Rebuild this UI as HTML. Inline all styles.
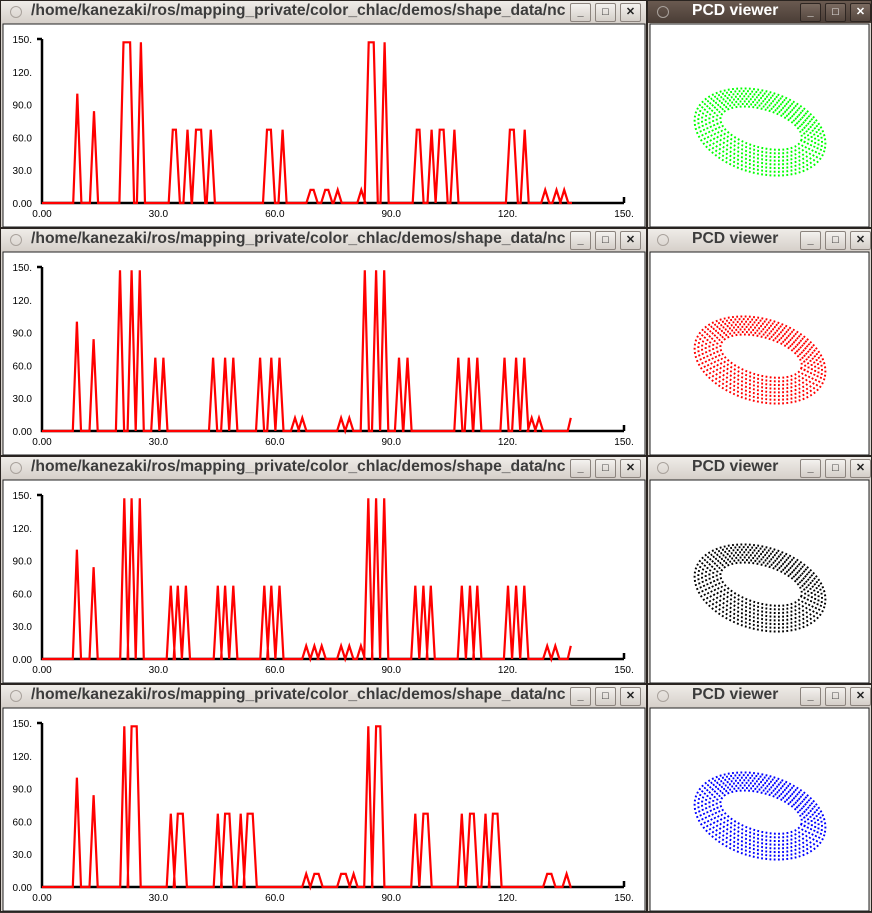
<!DOCTYPE html>
<html><head><meta charset="utf-8">
<style>
body{margin:0;width:872px;height:912px;overflow:hidden;background:#3a3330;font-family:"Liberation Sans",sans-serif;position:relative}
.win{position:absolute;background:#d9d4ce;border:1px solid #2a2420;box-sizing:border-box}
.tb{position:absolute;left:0;right:0;top:0;height:22px;background:linear-gradient(#efece8,#d6d0ca);}
.tb.active{background:linear-gradient(#6a5a50,#4a3d36);}
.ttl{position:absolute;top:1px;font-weight:bold;font-size:15.7px;color:#3c3c3c;white-space:nowrap;overflow:hidden}
.active .ttl{color:#fff}
.circ{position:absolute;left:9px;top:5px;width:10px;height:10px;border-radius:50%;border:1px solid #a9a29c}
.btn{position:absolute;top:2px;width:19px;height:17px;border:1px solid #8c847e;border-radius:2px;background:linear-gradient(#f4f2ef,#d4cec8);font-size:11px;text-align:center;line-height:17px;color:#222;font-weight:bold}
.active .btn{background:linear-gradient(#7a6a60,#54463e);border-color:#2e2622;color:#fff}
svg{position:absolute;left:0;top:0}
</style></head><body>
<div id="root"></div>
<script>
// chart data
const xTicks=["0.00","30.0","60.0","90.0","120.","150."];
const yTicks=["0.00","30.0","60.0","90.0","120.","150."];
const c1Start=[9.1,13.4,21,25.5,33.7,37.5,39.7,43.5,58,62,69.2,73,76.2,82.3,84.2,88.3,96.6,100.4,102.5,106.3,120.6,124.4,129.7,132.6,134.6];
const c1Width=[0,0,1.7,0,0.8,0,1.3,0,1,0,0.8,0.8,0,0,1.3,0,0.7,0,1,0,1,0,0,0,0];
const c1Height=[100,84,147,147,67,67,67,67,67,67,12,12,12,12,147,147,67,67,67,67,67,67,12,12,12];
const c1End=[136.6,0];
const c2Start=[9,13.3,20.1,23.1,25.2,29.2,31.3,44.1,47.2,49.3,56.2,59.1,61.2,65.2,67.1,77.1,79.2,83.2,86.1,88.2,92,94.2,107.3,110,112.2,119.2,122.2,124.3,126.2,128.1];
const c2Width=[0,0,0,0,0,0,0,0,0,0,0,0,0,0,0,0,0,0,0,0,0,0,0,0,0,0,0,0,0,0];
const c2Height=[100,84,147,147,147,67,67,67,67,67,67,67,67,12,12,12,12,147,147,147,67,67,67,67,67,67,67,67,12,12];
const c2End=[136.3,12];
const c3Start=[9,13.3,21.2,23.1,25.2,33.2,35,37.1,45.3,47.2,49.3,57.3,59.1,61.2,68.1,70.2,72.1,77.1,79.2,82.2,84.1,86.1,88.2,96.2,98.3,100.2,108.2,110.3,112.2,120.1,122.2,124.3,130.2,132.3];
const c3Width=[0,0,0,0,0,0,0,0,0,0,0,0,0,0,0,0,0,0,0,0,0,0,0,0,0,0,0,0,0,0,0,0,0,0];
const c3Height=[100,84,147,147,147,67,67,67,67,67,67,67,67,67,12,12,12,12,12,12,147,147,147,67,67,67,67,67,67,67,67,67,12,12];
const c3End=[136.3,12];
const c4Start=[9,13.3,21.2,23.1,33.2,35,45.3,47.2,51.2,53,68.1,70.2,77.1,80.3,84.1,86.1,96.2,98.3,108.2,110.3,114.3,116.2,130.2,135.2];
const c4Width=[0,0,0,1.3,0,1.3,0,1.1,0,1.3,0,1.1,1.2,0,0,1.1,0,1.1,0,1,0,1.2,1.1,0];
const c4Height=[100,84,147,147,67,67,67,67,67,67,12,12,12,12,147,147,67,67,67,67,67,67,12,12];
const c4End=[136.5,0];
const charts=[[c1Start,c1Width,c1Height,c1End],[c2Start,c2Width,c2Height,c2End],[c3Start,c3Width,c3Height,c3End],[c4Start,c4Width,c4Height,c4End]];
const torusColors=["#00ff00","#ff0000","#000000","#0000ff"];

const root=document.getElementById('root');
const NS="http://www.w3.org/2000/svg";
function xs(v){return 41+v*(582/150);}
function ys(v){return 202-v*(164/150);}
function mk(tag,attrs,parent){const e=document.createElementNS(NS,tag);for(const k in attrs)e.setAttribute(k,attrs[k]);parent.appendChild(e);return e;}
function titleBar(win,text,active,btnX,ttlLeft,ttlWidth){
  const tb=document.createElement('div');tb.className='tb'+(active?' active':'');
  
  
  const c=document.createElement('div');c.className='circ';
  
  
  tb.appendChild(c);
  const t=document.createElement('div');t.className='ttl';t.textContent=text;t.style.left=ttlLeft+'px';t.style.width=ttlWidth+'px';
  
  
  tb.appendChild(t);
  const names=['minimize-button','maximize-button','close-button'];const glyph=['_','□','✕'];
  for(let i=0;i<3;i++){const b=document.createElement('div');b.className='btn';b.style.left=(btnX+i*25)+'px';b.textContent=glyph[i];
    
    
    tb.appendChild(b);}
  win.appendChild(tb);
}
charts.forEach((ch,r)=>{
  const top=r*228;
  const w=document.createElement('div');w.className='win';
  
  
  w.style.cssText=`left:0;top:${top}px;width:647px;height:228px`;
  root.appendChild(w);
  titleBar(w,'/home/kanezaki/ros/mapping_private/color_chlac/demos/shape_data/nc',false,569,30,535);
  const svg=mk('svg',{width:647,height:228},w);
  
  
  mk('rect',{x:2,y:23,width:642,height:203,fill:'#fff',stroke:'#222','stroke-width':1},svg);
  const ax=mk('path',{d:`M${xs(0)},${ys(150)} V${ys(0)} H${xs(150)} M${xs(150)},${ys(0)} v-6 M${xs(0)-5},${ys(150)} h5`,stroke:'#000','stroke-width':2.5,fill:'none'},svg);
  
  
  yTicks.forEach((t,i)=>{const e=mk('text',{x:31,y:ys(i*30)+4,'text-anchor':'end','font-size':10,'font-family':'Liberation Sans, sans-serif',fill:'#000'},svg);e.textContent=t;
    
    });
  xTicks.forEach((t,i)=>{const e=mk('text',{x:xs(i*30),y:216,'text-anchor':'middle','font-size':10,'font-family':'Liberation Sans, sans-serif',fill:'#000'},svg);e.textContent=t;
    
    });
  const [st,wd,ht,end]=ch;const ramp=1.05;
  let pts=[[0,0]];
  for(let i=0;i<st.length;i++){pts.push([st[i]-ramp,0],[st[i],ht[i]],[st[i]+wd[i],ht[i]],[st[i]+wd[i]+ramp,0]);}
  if(end[1]>0){pts.push([end[0]-0.8,0],[end[0],end[1]]);}else pts.push([end[0],0]);
  const line=mk('polyline',{points:pts.map(p=>xs(p[0]).toFixed(1)+','+ys(p[1]).toFixed(1)).join(' '),fill:'none',stroke:'#ff0000','stroke-width':2.2,'stroke-linejoin':'miter'},svg);
  
  
  const v=document.createElement('div');v.className='win';
  
  
  v.style.cssText=`left:647px;top:${top}px;width:225px;height:228px`;
  root.appendChild(v);
  titleBar(v,'PCD viewer',r===0,152,44,100);
  const s2=mk('svg',{width:225,height:228},v);
  
  
  mk('rect',{x:2,y:23,width:219,height:203,fill:'#fff',stroke:'#222','stroke-width':1},s2);
  const g=mk('g',{transform:'translate(112,131) rotate(16)'},s2);
  
  
  for(let k=0;k<8;k++){const f=k/7;
    mk('ellipse',{cx:0,cy:-f*4,rx:67-f*25,ry:41-f*22,fill:'none',stroke:torusColors[r],'stroke-width':2,'stroke-dasharray':'1.8 2.4'},g);}
});
</script>
</body></html>
